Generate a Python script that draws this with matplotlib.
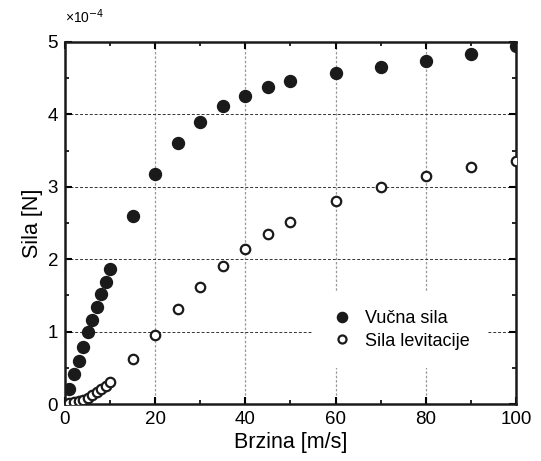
import matplotlib
matplotlib.use("Agg")
import matplotlib.pyplot as plt
from matplotlib.ticker import MultipleLocator

plt.rcParams['font.family'] = ['Liberation Sans', 'DejaVu Sans']

x_vals = [1, 2, 3, 4, 5, 6, 7, 8, 9, 10, 15, 20, 25, 30, 35, 40, 45, 50, 60, 70, 80, 90, 100]
vucna = [0.21, 0.41, 0.60, 0.79, 0.99, 1.16, 1.34, 1.52, 1.69, 1.86, 2.60, 3.18, 3.60, 3.90,
         4.12, 4.26, 4.38, 4.46, 4.57, 4.65, 4.74, 4.84, 4.94]
levitacija = [0.01, 0.03, 0.04, 0.06, 0.09, 0.13, 0.17, 0.21, 0.25, 0.30, 0.62, 0.96, 1.31, 1.62,
              1.90, 2.14, 2.35, 2.52, 2.80, 3.00, 3.15, 3.27, 3.36]
labels = ['Vučna sila', 'Sila levitacije']

fig = plt.figure(figsize=(5.41, 4.61), dpi=100)
ax = fig.add_axes([0.1201, 0.1236, 0.9538 - 0.1201, 0.9089 - 0.1236])

ax.plot(x_vals, vucna, 'o', color='#1a1a1a', markersize=8.6, label=labels[0], zorder=3)
ax.plot(x_vals, levitacija, 'o', markerfacecolor='white', markeredgecolor='#1a1a1a',
        markeredgewidth=1.6, markersize=6.8, label=labels[1], zorder=3)

ax.set_xlim(0, 100)
ax.set_ylim(0, 5)
ax.xaxis.set_major_locator(MultipleLocator(20))
ax.xaxis.set_minor_locator(MultipleLocator(10))
ax.yaxis.set_major_locator(MultipleLocator(1))
ax.yaxis.set_minor_locator(MultipleLocator(0.5))

ax.yaxis.grid(True, which='major', linestyle=(0, (3, 2)), color='#333333', linewidth=0.7)
ax.xaxis.grid(True, which='major', linestyle=(0, (2, 1.5)), color='#999999', linewidth=0.9)
ax.set_axisbelow(True)

ax.tick_params(which='both', direction='in', top=True, right=True, labelsize=13.5, pad=5)
ax.tick_params(which='major', length=5, width=1.5)
ax.tick_params(which='minor', length=3, width=1.2)
for s in ax.spines.values():
    s.set_linewidth(1.8)
    s.set_color('#1a1a1a')

ax.set_xlabel('Brzina [m/s]', fontsize=15.5, labelpad=3)
ax.set_ylabel('Sila [N]', fontsize=15.5, labelpad=3)
ax.text(0.0, 1.045, '×10$^{-4}$', transform=ax.transAxes, fontsize=10, ha='left', va='bottom')

leg = ax.legend(loc='upper left', bbox_to_anchor=(0.53, 0.334), frameon=True, fontsize=13,
                handletextpad=0.7, borderpad=1.0, labelspacing=0.3, handlelength=1.2,
                markerscale=0.85, fancybox=False, framealpha=1.0)
leg.get_frame().set_edgecolor('white')
leg.get_frame().set_linewidth(0)

fig.savefig('out.png', dpi=100)
